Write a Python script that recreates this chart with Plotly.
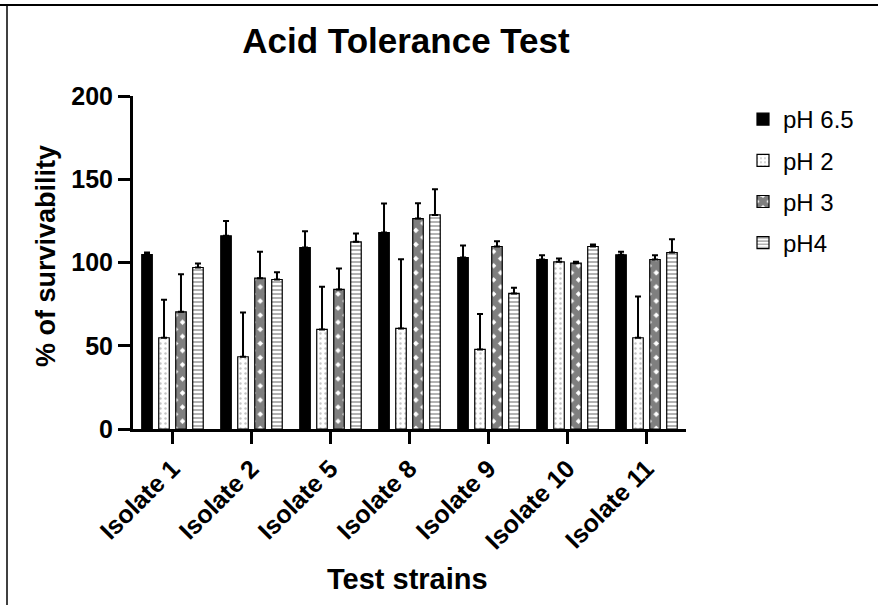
import plotly.graph_objects as go

categories = ["Isolate 1", "Isolate 2", "Isolate 5", "Isolate 8", "Isolate 9", "Isolate 10", "Isolate 11"]
series_names = ["pH 6.5", "pH 2", "pH 3", "pH4"]

ph65 = [104.8, 116.0, 109.0, 118.0, 103.0, 101.8, 104.6]
ph65_top = [106.0, 125.0, 118.8, 135.4, 110.2, 104.4, 106.4]
ph2 = [54.8, 43.4, 59.8, 60.4, 47.8, 100.4, 54.8]
ph2_top = [77.6, 70.0, 85.4, 102.0, 69.0, 102.4, 79.6]
ph3 = [70.4, 90.6, 83.8, 126.4, 109.6, 99.6, 101.8]
ph3_top = [93.0, 106.4, 96.4, 135.6, 112.8, 100.4, 104.4]
ph4 = [97.0, 89.8, 112.4, 128.6, 81.4, 109.6, 106.0]
ph4_top = [99.4, 94.2, 117.4, 144.0, 84.8, 110.8, 114.0]

values = [ph65, ph2, ph3, ph4]
tops = [ph65_top, ph2_top, ph3_top, ph4_top]

FONT = "Liberation Sans, Arial, sans-serif"

patterns = [
    dict(shape=""),
    dict(shape=".", fgcolor="#8a8a8a", bgcolor="white", size=5, solidity=0.18),
    dict(shape="x", fgcolor="black", bgcolor="white", size=10, solidity=0.85),
    dict(shape="-", fgcolor="#555555", bgcolor="white", size=4, solidity=0.45),
]
colors = ["black", "white", "white", "white"]

fig = go.Figure()
for i, name in enumerate(series_names):
    err = [t - v for t, v in zip(tops[i], values[i])]
    fig.add_trace(go.Bar(
        x=categories, y=values[i], name=name,
        legendgroup=name,
        marker=dict(color=colors[i], line=dict(color="black", width=1.2),
                    pattern=patterns[i]),
        error_y=dict(type="data", symmetric=False, array=err,
                     arrayminus=[0] * len(err), color="black",
                     thickness=2, width=3),
    ))

L, R, T, B = 133, 192, 96, 176
W, H = 878, 605
pw = W - L - R
ph = H - T - B

def px2x(px):
    return (px - L) / pw

def px2y(py):
    return (H - B - py) / ph

fig.update_layout(
    width=W, height=H,
    margin=dict(l=L, r=R, t=T, b=B),
    paper_bgcolor="white", plot_bgcolor="white",
    barmode="group", bargap=0.14, bargroupgap=0.38,
    font=dict(family=FONT, color="black"),
    title=dict(text="<b>Acid Tolerance Test</b>", x=px2x(406), xref="paper",
               xanchor="center", y=1 - 41 / H, yanchor="middle",
               font=dict(size=35, family=FONT, color="black")),
    showlegend=True,
    legend=dict(x=px2x(743), y=px2y(97), xanchor="left", yanchor="top",
                font=dict(size=24, family=FONT, color="black"),
                tracegroupgap=7, bgcolor="rgba(0,0,0,0)"),
    xaxis=dict(
        range=[-0.5, 6.5],
        showline=True, linecolor="black", linewidth=3,
        ticks="outside", ticklen=12, tickwidth=3, tickcolor="black",
        tickangle=-45,
        tickfont=dict(size=25, family=FONT, color="black", weight="bold"),
        showgrid=False, zeroline=False,
    ),
    yaxis=dict(
        range=[0, 200], tickvals=[0, 50, 100, 150, 200],
        showline=True, linecolor="black", linewidth=3,
        ticks="outside", ticklen=12, tickwidth=3, tickcolor="black",
        tickfont=dict(size=25, family=FONT, color="black", weight="bold"),
        showgrid=False, zeroline=False,
    ),
    annotations=[
        dict(text="<b>Test strains</b>", xref="paper", yref="paper",
             x=px2x(407), y=px2y(579), xanchor="center", yanchor="middle",
             showarrow=False, font=dict(size=29, family=FONT, color="black")),
        dict(text="<b>% of survivability</b>", xref="paper", yref="paper",
             x=px2x(46), y=px2y(256), xanchor="center", yanchor="middle",
             textangle=-90, showarrow=False,
             font=dict(size=27, family=FONT, color="black")),
    ],
    shapes=[
        dict(type="line", xref="paper", yref="paper",
             x0=px2x(0), x1=px2x(W), y0=px2y(5), y1=px2y(5),
             line=dict(color="black", width=2)),
        dict(type="line", xref="paper", yref="paper",
             x0=px2x(7), x1=px2x(7), y0=px2y(5), y1=px2y(H),
             line=dict(color="black", width=1.5)),
    ],
)

fig.write_html(
    "out.html",
    config={"displayModeBar": False},
    post_script="document.body.style.margin='0';document.body.style.overflow='hidden';",
)
